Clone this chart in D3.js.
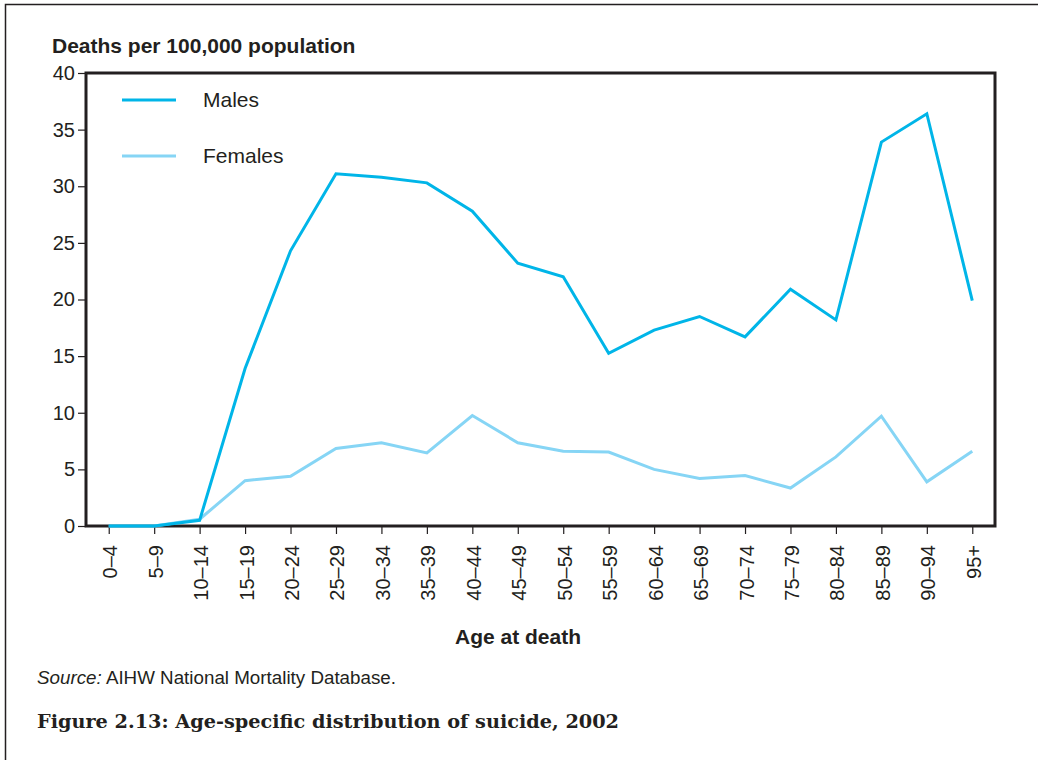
<!DOCTYPE html>
<html><head><meta charset="utf-8">
<script src="https://cdn.jsdelivr.net/npm/d3@7"></script>
<style>
body{margin:0;background:#fff;}
svg{display:block;}
text{fill:#231f20;}
</style></head>
<body>
<svg id="chart" width="1038" height="760"></svg>
<script>
const ageGroups = ["0–4","5–9","10–14","15–19","20–24","25–29","30–34","35–39","40–44","45–49","50–54","55–59","60–64","65–69","70–74","75–79","80–84","85–89","90–94","95+"];
const males   = [0,0,0.5,13.9,24.3,31.1,30.8,30.3,27.8,23.2,22.0,15.25,17.3,18.5,16.7,20.9,18.2,33.9,36.4,19.9];
const females = [0,0,0.6,4.0,4.4,6.85,7.35,6.45,9.75,7.35,6.6,6.53,5.0,4.2,4.45,3.35,6.1,9.7,3.9,6.6];
const yTicks = [0,5,10,15,20,25,30,35,40];
const seriesNames = ["Males","Females"];
const seriesColors = ["#00b5e8","#86d5f5"];

const svg = d3.select("#chart");
const ink = "#231f20";
const sans = "Liberation Sans, Arial, sans-serif";
const m = {left:86, top:73, right:995, bottom:526};

// outer frame (left and top edges visible)
svg.append("path").attr("d","M5.5,760 L5.5,4.5 L1040,4.5").attr("fill","none").attr("stroke",ink).attr("stroke-width",1.5);

const x = d3.scalePoint().domain(ageGroups).range([m.left, m.right]).padding(0.5);
const y = d3.scaleLinear().domain([0,40]).range([m.bottom, m.top]);

// plot box
svg.append("rect").attr("x",m.left).attr("y",m.top).attr("width",m.right-m.left).attr("height",m.bottom-m.top)
  .attr("fill","none").attr("stroke",ink).attr("stroke-width",3);

// y axis
const yAxis = svg.append("g").attr("transform",`translate(${m.left},0)`)
  .call(d3.axisLeft(y).tickValues(yTicks).tickSize(8).tickPadding(3).tickFormat(d3.format("d")));
yAxis.select(".domain").remove();
yAxis.selectAll("line").attr("stroke",ink).attr("stroke-width",1.2);
yAxis.selectAll("text").attr("font-family",sans).attr("font-size",20).attr("fill",ink);

// x axis
const xAxis = svg.append("g").attr("transform",`translate(0,${m.bottom})`)
  .call(d3.axisBottom(x).tickSize(8).tickPadding(4));
xAxis.select(".domain").remove();
xAxis.selectAll("line").attr("stroke",ink).attr("stroke-width",1.2);
xAxis.selectAll("text").attr("font-family",sans).attr("font-size",20).attr("fill",ink)
  .attr("transform","rotate(-90)").attr("text-anchor","end").attr("x",-19).attr("y",0).attr("dy","0.4em");

// lines
const line = d3.line().x((d,i)=>x(ageGroups[i])).y(d=>y(d));
const data = [males, females];
[1,0].forEach(k=>{
  svg.append("path").datum(data[k]).attr("d",line).attr("fill","none")
    .attr("stroke",seriesColors[k]).attr("stroke-width",3).attr("stroke-linejoin","miter");
});

// legend
const legY = [100,156];
seriesNames.forEach((n,k)=>{
  svg.append("line").attr("x1",122).attr("x2",176).attr("y1",legY[k]).attr("y2",legY[k])
    .attr("stroke",seriesColors[k]).attr("stroke-width",3);
  svg.append("text").attr("x",203).attr("y",legY[k]).attr("dy","0.35em")
    .attr("font-family",sans).attr("font-size",21).text(n);
});

// titles
svg.append("text").attr("x",52).attr("y",53).attr("font-family",sans)
  .attr("font-weight","bold").attr("font-size",21).text("Deaths per 100,000 population");
svg.append("text").attr("x",518).attr("y",644).attr("text-anchor","middle").attr("font-family",sans)
  .attr("font-weight","bold").attr("font-size",21).text("Age at death");

const src = svg.append("text").attr("x",37).attr("y",684).attr("font-family",sans).attr("font-size",17.5)
  .attr("textLength",359).attr("lengthAdjust","spacingAndGlyphs");
src.append("tspan").attr("font-style","italic").text("Source:");
src.append("tspan").text(" AIHW National Mortality Database.");

svg.append("text").attr("x",37).attr("y",728).attr("font-family","DejaVu Serif, Liberation Serif, serif")
  .attr("font-weight","bold").attr("font-size",18).attr("textLength",582).attr("lengthAdjust","spacingAndGlyphs")
  .text("Figure 2.13: Age-specific distribution of suicide, 2002");
</script>
</body></html>
